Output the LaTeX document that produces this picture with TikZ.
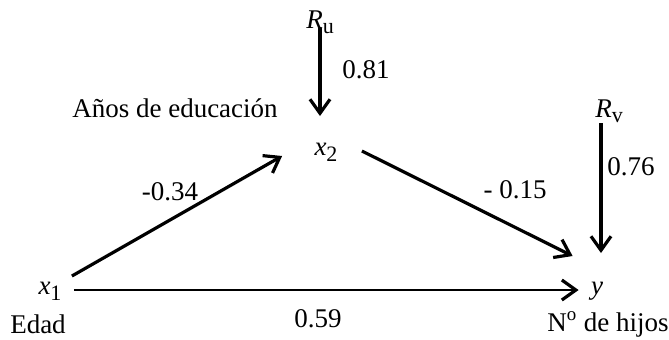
\documentclass[tikz,border=0pt]{standalone}
\usepackage{fontspec}
\setmainfont{Liberation Serif}
\usetikzlibrary{arrows.meta}
\newcommand{\lowsub}[1]{\raisebox{-0.45ex}{\fontsize{11}{13}\selectfont #1}}
\begin{document}
\begin{tikzpicture}[x=0.5pt, y=-0.5pt, font=\fontsize{13.5}{16}\selectfont,
  var/.style={inner sep=1pt, text height=1ex, text depth=0pt},
  lbl/.style={inner sep=0pt, anchor=base},
  arr/.style={-{Straight Barb[length=7pt, width=10pt, line width=1.6pt]},
              line width=1.6pt}
]
  \useasboundingbox (0,0) rectangle (669,339);

  \node[var] (x1) at (50,290)  {\textit{x}\lowsub{1}};
  \node[var] (x2) at (326,151) {\textit{x}\lowsub{2}};
  \node[var] (y)  at (597,290) {\textit{y}};
  \node[lbl] (ru) at (320,28)  {\textit{R}\lowsub{u}};
  \node[lbl] (rv) at (609,117) {\textit{R}\lowsub{v}};

  \node[lbl] (lru)  at (366,78)  {0.81};
  \node[lbl, anchor=base west] (lrv) at (607,175) {0.76};
  \node[lbl] (l12)  at (170,200) {-0.34};
  \node[lbl] (l2y)  at (515,198) {- 0.15};
  \node[lbl] (l1y)  at (318,327) {0.59};
  \node[lbl] (nx2)  at (175,117) {Años de educación};
  \node[lbl] (nx1)  at (38,333)  {Edad};
  \node[lbl] (ny)   at (608,331) {N\textsuperscript{o} de hijos};

  \draw[arr, shorten >=14pt] (ru.base) -- (ru.base |- x2.north);
  \draw[arr, shorten >=15pt] ([xshift=-4pt]rv.south) -- ([xshift=-4pt]rv.south |- y.north);
  \draw[arr] ([shift={(4pt,3.5pt)}]x1.north east) -- ([shift={(-15pt,1pt)}]x2.south west);
  \draw[arr] ([xshift=11pt]x2.east) -- ([shift={(-8pt,13.5pt)}]y.north west);
  \draw[arr, line width=1.2pt, shorten <=5pt, shorten >=5pt] (x1.east) -- (y.west);
\end{tikzpicture}
\end{document}
